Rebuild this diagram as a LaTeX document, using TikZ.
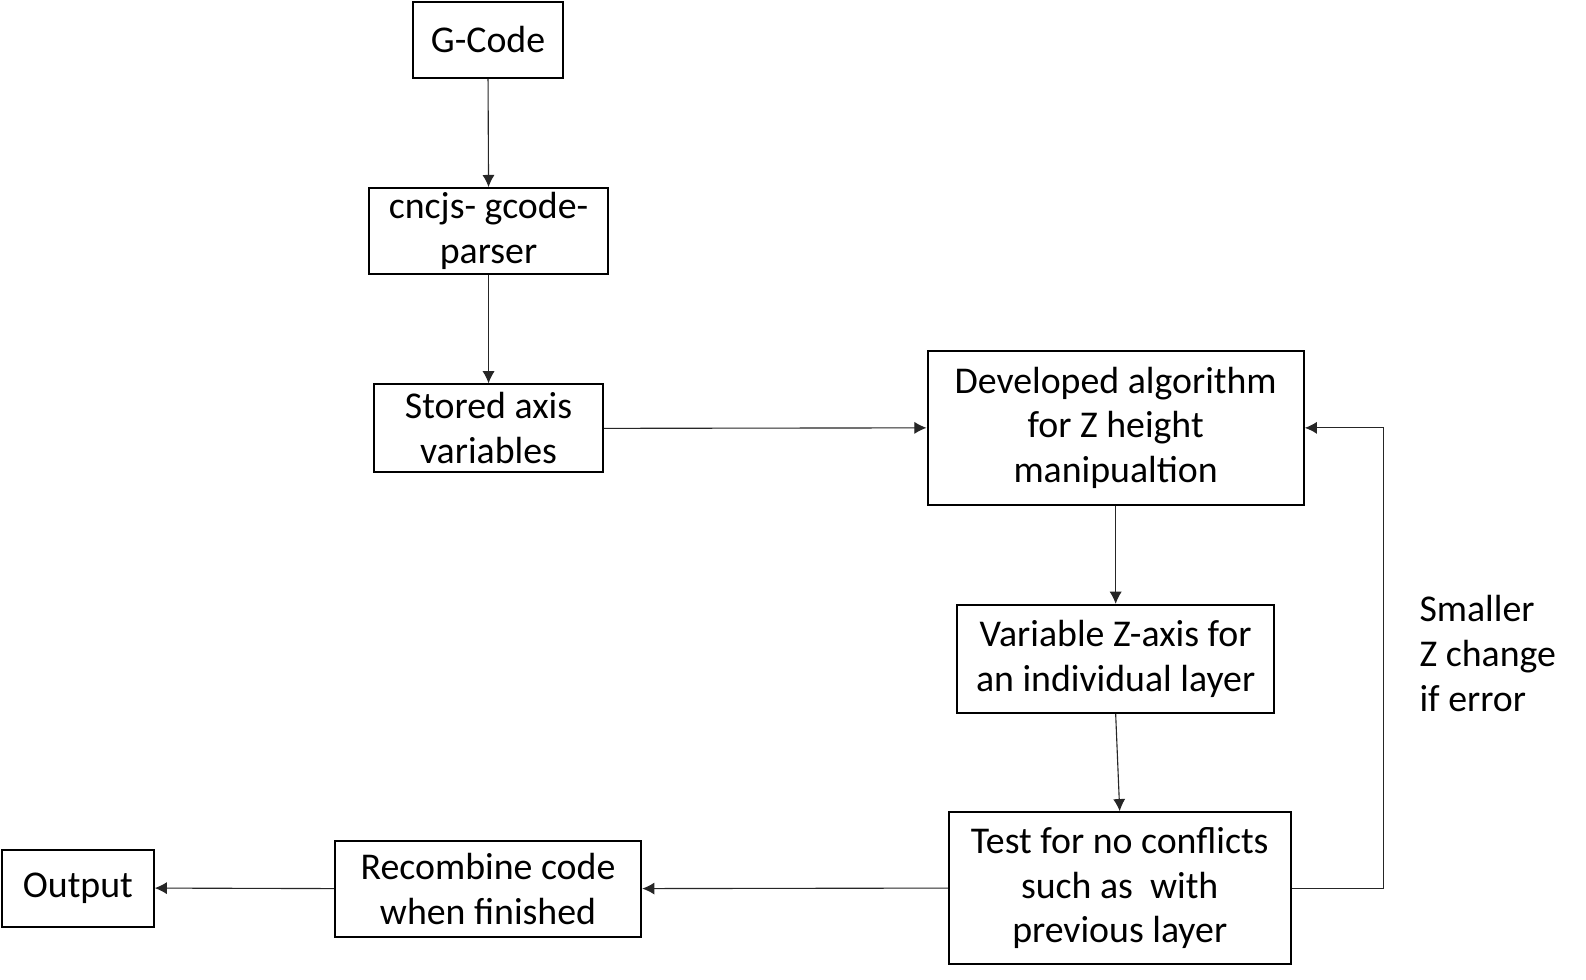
\documentclass[tikz,border=0pt]{standalone}
\usepackage{fontspec}
\setmainfont{Carlito}
\usetikzlibrary{arrows.meta}
\begin{document}
\begin{tikzpicture}[x=0.5pt,y=-0.5pt,
  box/.style={draw=black,line width=1pt,inner sep=0pt,align=center,
    font=\fontsize{18.7}{22.2}\selectfont},
  arr/.style={draw=black!85,line width=0.55pt,-{Latex[length=6pt,width=6pt]}},
  lbl/.style={inner sep=0pt,align=left,font=\fontsize{18.7}{22.2}\selectfont}]
\useasboundingbox[fill=white] (0,0) rectangle (1568,968);
\node[box,minimum width=74.5pt,minimum height=37.5pt] (gc) at (482.5,39.5) {G-Code};
\node[box,minimum width=118pt,minimum height=42.5pt] (cn) at (483,228.5) {cncjs- gcode-\\parser};
\node[box,minimum width=113pt,minimum height=43.5pt] (st) at (483,423.5) {Stored axis\\variables};
\node[box,minimum width=186pt,minimum height=76pt] (dv) at (1103,423) {Developed algorithm\\for Z height\\manipualtion};
\node[box,minimum width=157pt,minimum height=53.5pt] (va) at (1103,651.5) {Variable Z-axis for\\an individual layer};
\node[box,minimum width=169pt,minimum height=75pt] (te) at (1107,878) {Test for no conflicts\\such as\ \ with\\previous layer};
\node[box,minimum width=151.5pt,minimum height=47.5pt] (rc) at (482.5,878.5) {Recombine code\\when finished};
\node[box,minimum width=75pt,minimum height=38pt] (ou) at (77,878) {Output};
\node[lbl,anchor=west] (sm) at (1403,646) {Smaller\\Z change\\if error};
\coordinate (fb) at (1368,650);
\draw[arr] (gc.south) -- (cn.north);
\draw[arr] (cn.south) -- (st.north);
\draw[arr] (st.east) -- (dv.west);
\draw[arr] (dv.south) -- (va.north);
\draw[arr] (va.south) -- (te.north);
\draw[arr] (te.west) -- (rc.east);
\draw[arr] (rc.west) -- (ou.east);
\draw[arr] (te.east) -| (fb) |- (dv.east);
\end{tikzpicture}
\end{document}
